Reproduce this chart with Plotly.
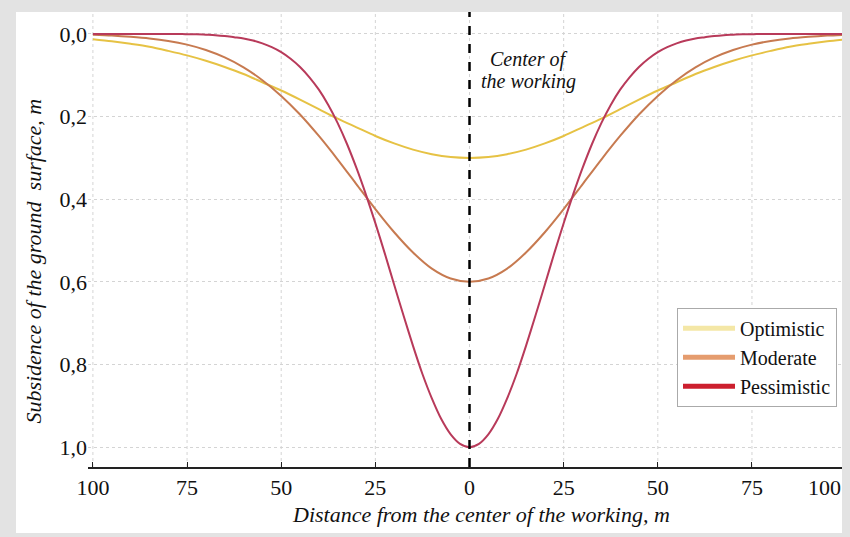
import plotly.graph_objects as go

distance = [-100, -95, -90, -85, -80, -75, -70, -65, -60, -55, -50, -45, -40, -35, -30, -25, -20, -15, -10, -5,
            0, 5, 10, 15, 20, 25, 30, 35, 40, 45, 50, 55, 60, 65, 70, 75, 80, 85, 90, 95, 100]

optimistic = [0.013, 0.018, 0.024, 0.031, 0.041, 0.052, 0.065, 0.080, 0.097, 0.117, 0.137, 0.159, 0.182, 0.205,
              0.226, 0.247, 0.265, 0.280, 0.291, 0.298, 0.300, 0.298, 0.291, 0.280, 0.265, 0.247, 0.226, 0.205,
              0.182, 0.159, 0.137, 0.117, 0.097, 0.080, 0.065, 0.052, 0.041, 0.031, 0.024, 0.018, 0.013]

moderate = [0.002, 0.004, 0.007, 0.011, 0.017, 0.026, 0.039, 0.057, 0.081, 0.112, 0.150, 0.195, 0.247, 0.304,
            0.364, 0.424, 0.480, 0.529, 0.568, 0.592, 0.600, 0.592, 0.568, 0.529, 0.480, 0.424, 0.364, 0.304,
            0.247, 0.195, 0.150, 0.112, 0.081, 0.057, 0.039, 0.026, 0.017, 0.011, 0.007, 0.004, 0.002]

distance_fine = [-100, -97.5, -95, -92.5, -90, -87.5, -85, -82.5, -80, -77.5, -75, -72.5, -70, -67.5, -65, -62.5,
                 -60, -57.5, -55, -52.5, -50, -47.5, -45, -42.5, -40, -37.5, -35, -32.5, -30, -27.5, -25, -22.5,
                 -20, -17.5, -15, -12.5, -10, -7.5, -5, -2.5, 0, 2.5, 5, 7.5, 10, 12.5, 15, 17.5, 20, 22.5, 25,
                 27.5, 30, 32.5, 35, 37.5, 40, 42.5, 45, 47.5, 50, 52.5, 55, 57.5, 60, 62.5, 65, 67.5, 70, 72.5,
                 75, 77.5, 80, 82.5, 85, 87.5, 90, 92.5, 95, 97.5, 100]

pessimistic = [0.0, 0.0, 0.0, 0.0, 0.0, 0.0, 0.0, 0.0, 0.0, 0.0, 0.001, 0.001, 0.002, 0.003, 0.005, 0.008,
               0.011, 0.016, 0.023, 0.032, 0.044, 0.060, 0.080, 0.105, 0.135, 0.172, 0.216, 0.267, 0.325, 0.389,
               0.458, 0.531, 0.607, 0.682, 0.755, 0.823, 0.882, 0.932, 0.969, 0.992, 1.000, 0.992, 0.969, 0.932,
               0.882, 0.823, 0.755, 0.682, 0.607, 0.531, 0.458, 0.389, 0.325, 0.267, 0.216, 0.172, 0.135, 0.105,
               0.080, 0.060, 0.044, 0.032, 0.023, 0.016, 0.011, 0.008, 0.005, 0.003, 0.002, 0.001, 0.001, 0.0,
               0.0, 0.0, 0.0, 0.0, 0.0, 0.0, 0.0, 0.0, 0.0]

series_names = ["Optimistic", "Moderate", "Pessimistic"]
curve_colors = ["#e6c244", "#c77a50", "#b83a5a"]
legend_colors = ["#f4e7a6", "#e59c6e", "#cc1f2e"]

x_tickvals = [-100, -75, -50, -25, 0, 25, 50, 75]
x_ticktext = ["100", "75", "50", "25", "0", "25", "50", "75"]
x_last_tick = 100
x_last_label = "100"
y_tickvals = [0.0, 0.2, 0.4, 0.6, 0.8, 1.0]

SERIF = "Liberation Serif, Times New Roman, serif"

fig = go.Figure()

# white panel on grey frame (first, so the gridlines sit on top of it)
fig.add_shape(type="rect", xref="paper", yref="paper", x0=-0.0947, x1=1.01, y0=-0.145, y1=1.0,
              fillcolor="white", line=dict(width=0), layer="below")

for name, xs, ys, col in zip(series_names, [distance, distance, distance_fine],
                             [optimistic, moderate, pessimistic], curve_colors):
    fig.add_trace(go.Scatter(x=xs, y=ys, mode="lines", name=name,
                             line=dict(color=col, width=2, shape="spline", smoothing=0.8),
                             showlegend=False, hoverinfo="x+y"))

# legend-only entries (thick swatches)
for name, col in zip(series_names, legend_colors):
    fig.add_trace(go.Scatter(x=[None], y=[None], mode="lines", name=name,
                             line=dict(color=col, width=5), showlegend=True))

# vertical gridlines incl. the x=100 one (which has no regular tick label)
for xv in x_tickvals + [x_last_tick]:
    fig.add_vline(x=xv, line=dict(color="#d4d4d4", width=1, dash="dot"), layer="below")

# center line
fig.add_shape(type="line", xref="x", yref="paper", x0=0, x1=0, y0=0, y1=1,
              line=dict(color="black", width=2.5, dash="dash"), layer="above")

# last x tick label, kept inside the frame as in the original
fig.add_annotation(x=x_last_tick, xref="x", y=0, yref="paper", xanchor="right", yanchor="middle",
                   xshift=-3, yshift=-20, text=x_last_label, showarrow=False,
                   font=dict(family=SERIF, size=22, color="#111"))

fig.add_annotation(x=0, xref="x", y=(467 - 60) / 455, yref="paper", xanchor="center", yanchor="middle",
                   xshift=59, text="<i>Center of</i>", showarrow=False,
                   font=dict(family=SERIF, size=20, color="#111"))
fig.add_annotation(x=0, xref="x", y=(467 - 81) / 455, yref="paper", xanchor="center", yanchor="middle",
                   xshift=59, text="<i>the working</i>", showarrow=False,
                   font=dict(family=SERIF, size=20, color="#111"))

fig.add_annotation(x=0.517, xref="paper", y=-0.105, yref="paper", yanchor="middle",
                   text="<i>Distance from the center of the working, m</i>", showarrow=False,
                   font=dict(family=SERIF, size=22, color="#111"))

fig.add_annotation(x=-0.072, xref="paper", y=0.452, yref="paper", textangle=-90,
                   xanchor="center", yanchor="middle",
                   text="<i>Subsidence of the ground  surface, m</i>", showarrow=False,
                   font=dict(family=SERIF, size=22, color="#111"))

fig.update_layout(
    width=842, height=529,
    margin=dict(l=80, r=2, t=4, b=70, autoexpand=False),
    paper_bgcolor="#e3e3e3",
    plot_bgcolor="rgba(0,0,0,0)",
    separators=", ",
    font=dict(family=SERIF, size=22, color="#111"),
    legend=dict(x=0.775, y=0.35, xanchor="left", yanchor="top",
                bgcolor="white", bordercolor="#aaaaaa", borderwidth=1,
                font=dict(family=SERIF, size=20, color="#111"),
                itemwidth=52, tracegroupgap=1, entrywidth=100, entrywidthmode="pixels"),
    showlegend=True,
)

fig.update_xaxes(range=[-101.3, 100.5], tickvals=x_tickvals, ticktext=x_ticktext,
                 showgrid=False, automargin=False,
                 showline=True, linecolor="#222", linewidth=2,
                 ticks="inside", ticklen=5, tickcolor="#222", tickwidth=1,
                 zeroline=False, tickfont=dict(family=SERIF, size=22))

fig.update_yaxes(range=[1.048, -0.053], tickvals=y_tickvals, tickformat=".1f",
                 showgrid=True, gridcolor="#d4d4d4", griddash="dot", gridwidth=1,
                 showline=False, zeroline=False, ticks="", ticklabelstandoff=0, automargin=False,
                 tickfont=dict(family=SERIF, size=22))

fig.write_html("out.html", post_script="document.body.style.background='#e3e3e3';")
